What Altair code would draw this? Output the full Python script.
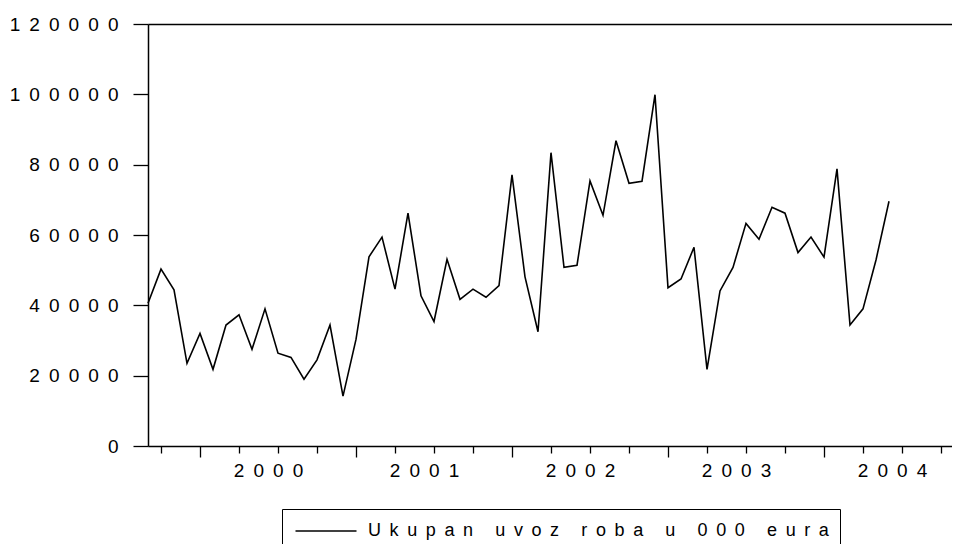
import altair as alt
import pandas as pd

NB = "\u00a0"
SP = NB + "\u2009"  # letter spacing used by the original labels

# Monthly observations, Sep 1999 .. Jun 2004 (index 0 = Sep 1999)
START_YEAR, START_MONTH = 1999, 9
values = [
    40600, 50300, 44400, 23500, 32000, 21800, 34400, 37300, 27500, 39000,
    26400, 25200, 19000, 24500, 34400, 14200, 30300, 53800, 59400, 44600,
    66200, 42700, 35400, 53100, 41700, 44600, 42300, 45600, 77100, 48100,
    32500, 83400, 50800, 51400, 75400, 65600, 86800, 74700, 75300, 99900,
    45000, 47500, 56500, 21800, 44100, 50800, 63300, 58800, 67900, 66200,
    55000, 59400, 53700, 78800, 34400, 39000, 52900, 69600,
]
series_name = "Ukupan uvoz roba u 000 eura"
years = [2000, 2001, 2002, 2003, 2004]
y_ticks = [0, 20000, 40000, 60000, 80000, 100000, 120000]

df = pd.DataFrame({
    "t": list(range(len(values))),
    "value": values,
    "series": [series_name] * len(values),
})

def month_index(year, month):
    return (year - START_YEAR) * 12 + (month - START_MONTH)

# quarterly ticks (Jan, Apr, Jul, Oct)
quarter_ticks = [month_index(y, m) for y in range(1999, 2005) for m in (1, 4, 7, 10)]
quarter_ticks = [q for q in quarter_ticks if 0 < q <= 61]
x_max = 804 / 13.0

def spaced(s):
    return SP.join(list(str(s)))

# year labels sit at the July tick (mid-year)
label_expr = "''"
for y in reversed(years):
    label_expr = f"datum.value == {month_index(y, 7)} ? '{spaced(y)}' : " + label_expr

FONT = "Liberation Sans"
FS = 19

x_scale = alt.Scale(domain=[0, x_max], nice=False, zero=False)
y_scale = alt.Scale(domain=[0, 120000], nice=False)

line = alt.Chart(df).mark_line(strokeWidth=1.6).encode(
    x=alt.X("t:Q", scale=x_scale, axis=alt.Axis(
        values=quarter_ticks, title=None, grid=False, orient="bottom",
        domainColor="black", domainWidth=1.3,
        tickColor="black", tickWidth=1.3,
        tickSize={"condition": {"test": "(datum.value - 4) % 12 == 0", "value": 11}, "value": 7},
        labelExpr=label_expr, labelOverlap=False, labelBound=False,
        labelFont=FONT, labelFontSize=FS, labelColor="black",
        labelPadding=8, labelOffset=-10, labelFlush=False,
    )),
    y=alt.Y("value:Q", scale=y_scale, axis=alt.Axis(
        values=y_ticks, title=None, grid=False,
        domainColor="black", domainWidth=1.5,
        tickColor="black", tickWidth=1.3, tickSize=15,
        labelExpr=f"join(split(toString(datum.value), ''), '{SP}')",
        labelFont=FONT, labelFontSize=FS, labelColor="black",
        labelPadding=15, labelFlush=False, labelOverlap=False,
    )),
    color=alt.Color("series:N", scale=alt.Scale(range=["black"]), legend=alt.Legend(
        title=None, orient="none", legendX=134, legendY=485,
        symbolType="M-3.05,0L3.05,0", symbolSize=400, symbolStrokeWidth=1.3,
        symbolOffset=22,
        labelFont=FONT, labelFontSize=18, labelColor="black", labelLimit=2000,
        labelExpr=f"join(split(join(split(datum.label, ' '), '{NB}'), ''), '{SP}')",
        labelOffset=31, padding=11, strokeColor="black", cornerRadius=0,
    )),
)

top = alt.Chart(df).mark_line(opacity=0).encode(
    x=alt.X("t:Q", scale=x_scale, axis=alt.Axis(
        orient="top", title=None, grid=False, ticks=False, labels=False,
        domainColor="black", domainWidth=1.3,
    )),
    y=alt.Y("value:Q", scale=y_scale),
)

chart = alt.layer(line, top).resolve_axis(x="independent").properties(
    width=804, height=422,
    autosize=alt.AutoSizeParams(type="none"),
    padding={"left": 140, "top": 16, "right": 0, "bottom": 102},
).configure_view(stroke=None).configure(background="white")

chart.save("out.html", embed_options={"renderer": "svg", "actions": False})
